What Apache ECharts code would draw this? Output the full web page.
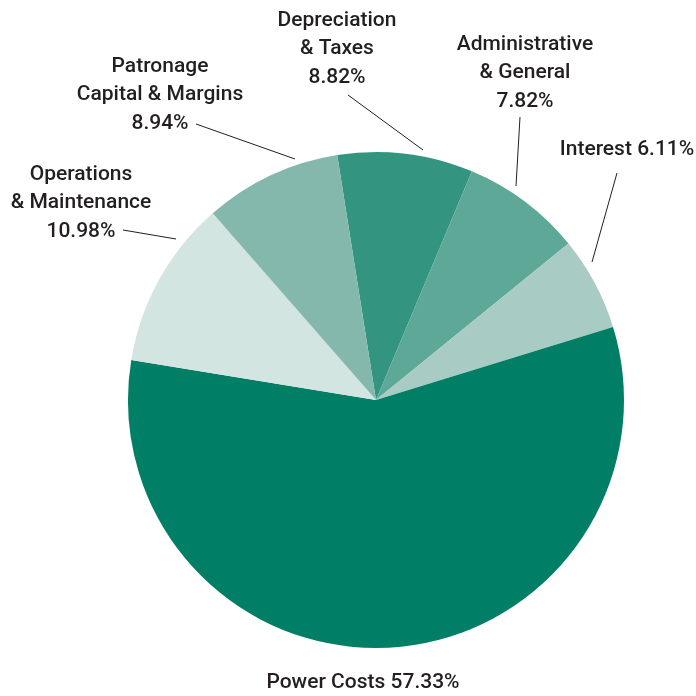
<!DOCTYPE html>
<html>
<head>
<meta charset="utf-8">
<script src="https://cdn.jsdelivr.net/npm/echarts@6/dist/echarts.min.js"></script>
<style>
html,body{margin:0;padding:0;background:#fff;}
#chart{width:696px;height:696px;}
</style>
</head>
<body>
<div id="chart"></div>
<script>
// Data (clockwise from top)
var categories = ['Depreciation\n& Taxes', 'Administrative\n& General', 'Interest', 'Power Costs', 'Operations\n& Maintenance', 'Patronage\nCapital & Margins'];
var values = [8.82, 7.82, 6.11, 57.33, 10.98, 8.94];
var labelTexts = ['Depreciation\n& Taxes\n8.82%', 'Administrative\n& General\n7.82%', 'Interest 6.11%', 'Power Costs 57.33%', 'Operations\n& Maintenance\n10.98%', 'Patronage\nCapital & Margins\n8.94%'];

// Styling / layout (not data)
var colors = ['#33957f', '#5ea898', '#a8cbc3', '#007f66', '#d3e5e1', '#85b8ad'];
var labelPos = [
  {x: 337, y: 49},
  {x: 525, y: 73},
  {x: 627, y: 150},
  {x: 363, y: 683},
  {x: 81, y: 203},
  {x: 160, y: 95}
];
var leaderLines = [
  [[348, 95], [423, 150]],
  [[520, 117], [516, 186]],
  [[617, 173], [592, 262]],
  null,
  [[123, 230], [176, 239]],
  [[196, 124], [295, 159]]
];

var chart = echarts.init(document.getElementById('chart'), null, {renderer: 'canvas'});
var data = values.map(function (v, i) {
  return {
    name: categories[i],
    value: v,
    itemStyle: {color: colors[i]},
    label: {formatter: labelTexts[i]},
    labelLine: {show: !!leaderLines[i]}
  };
});
chart.setOption({
  animation: false,
  series: [{
    type: 'pie',
    center: [376, 400],
    radius: [0, 248],
    startAngle: 99,
    clockwise: true,
    data: data,
    itemStyle: {borderWidth: 0},
    label: {
      show: true,
      position: 'outside',
      color: '#231f20',
      fontFamily: 'Roboto',
      fontWeight: 500,
      fontSize: 21,
      lineHeight: 28.5,
      align: 'center',
      overflow: 'none'
    },
    labelLine: {
      show: true,
      length: 10,
      length2: 10,
      smooth: false,
      lineStyle: {color: '#231f20', width: 1}
    },
    labelLayout: function (params) {
      var i = params.dataIndex;
      var p = labelPos[i];
      var o = {x: p.x, y: p.y, align: 'center', verticalAlign: 'middle', hideOverlap: false};
      if (leaderLines[i]) o.labelLinePoints = [leaderLines[i][0], leaderLines[i][0], leaderLines[i][1]];
      return o;
    }
  }]
});
</script>
</body>
</html>
